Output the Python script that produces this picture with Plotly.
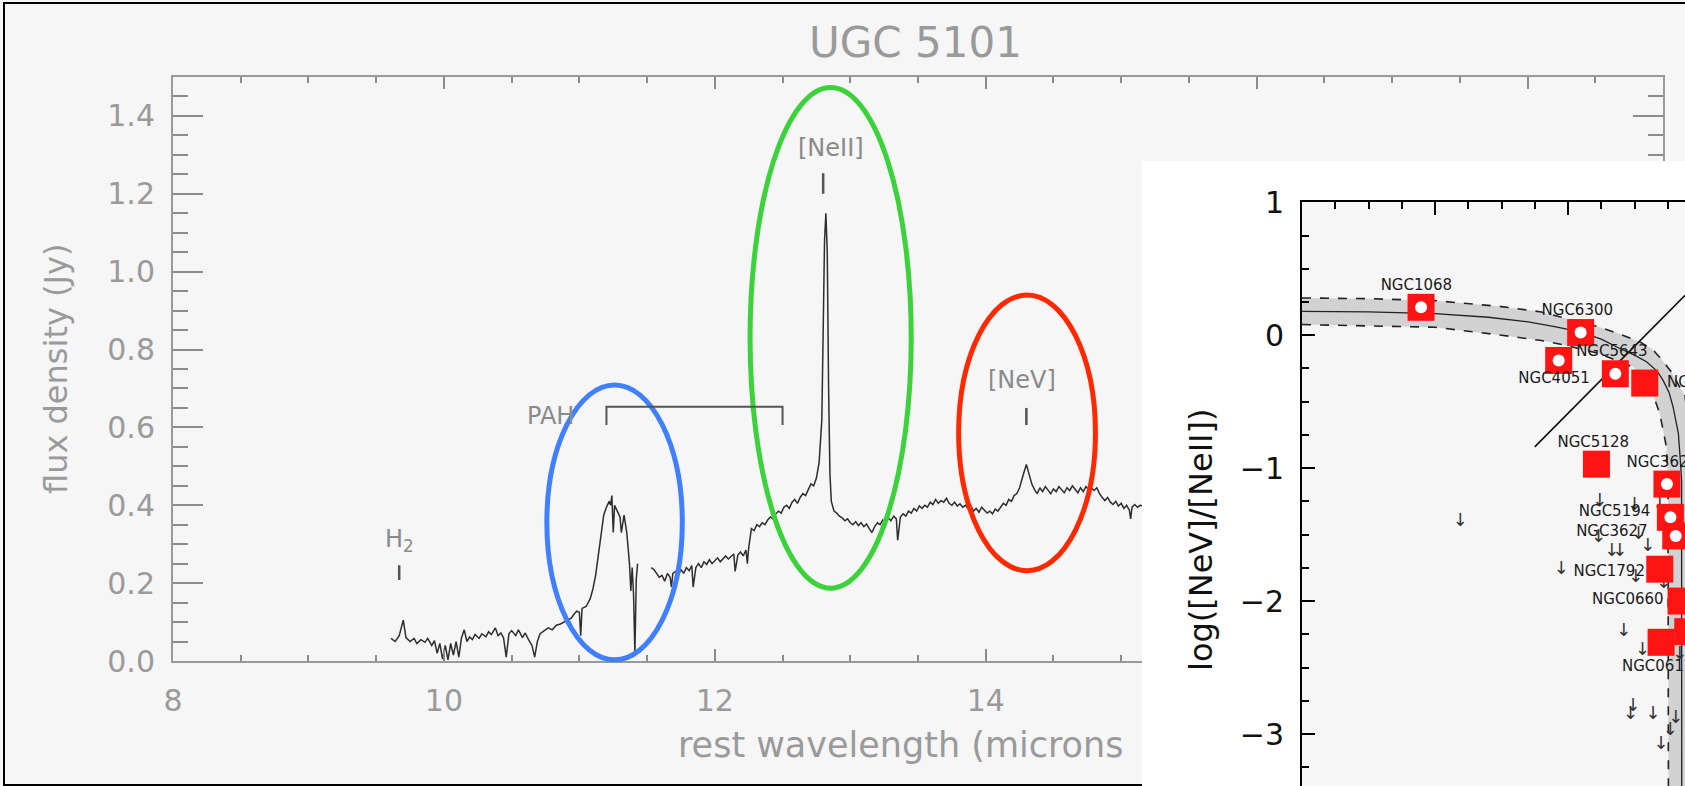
import plotly.graph_objects as go

W, H = 1685, 786

# ---- UGC 5101 spectrum (rest wavelength in microns, flux density in Jy)
wavelength = [
    9.61, 9.64, 9.67, 9.70, 9.72, 9.75, 9.78, 9.80, 9.83, 9.86, 9.88, 9.91, 9.93, 9.95, 9.97, 9.99,
    10.01, 10.03, 10.05, 10.07, 10.09, 10.11, 10.13, 10.15, 10.17, 10.19, 10.21, 10.23, 10.26, 10.28,
    10.31, 10.33, 10.35, 10.38, 10.40, 10.42, 10.44, 10.46, 10.48, 10.50, 10.53, 10.55, 10.58, 10.60,
    10.62, 10.65, 10.67, 10.69, 10.71, 10.74, 10.77, 10.80, 10.83, 10.86, 10.89, 10.92, 10.94, 10.96,
    10.98, 11.00, 11.01, 11.02, 11.05, 11.08, 11.10, 11.12, 11.14, 11.16, 11.18, 11.20, 11.22, 11.23,
    11.24, 11.25, 11.26, 11.28, 11.30, 11.31, 11.33, 11.35, 11.37, 11.38, 11.39, 11.40, 11.41, 11.42,
    11.43, 11.48, 11.53, 11.55, 11.57, 11.59, 11.61, 11.63, 11.65, 11.67, 11.68, 11.69, 11.71, 11.73,
    11.75, 11.77, 11.79, 11.81, 11.83, 11.84, 11.86, 11.88, 11.90, 11.92, 11.94, 11.96, 11.98, 12.00,
    12.02, 12.04, 12.06, 12.08, 12.10, 12.12, 12.14, 12.15, 12.17, 12.19, 12.21, 12.23, 12.24, 12.25,
    12.27, 12.29, 12.31, 12.33, 12.35, 12.37, 12.39, 12.41, 12.43, 12.45, 12.47, 12.49, 12.51, 12.53,
    12.55, 12.57, 12.59, 12.61, 12.63, 12.65, 12.67, 12.69, 12.71, 12.73, 12.75, 12.77, 12.79, 12.80,
    12.81, 12.82, 12.83, 12.84, 12.85, 12.86, 12.88, 12.90, 12.92, 12.94, 12.96, 12.98, 13.00, 13.02,
    13.04, 13.06, 13.08, 13.10, 13.12, 13.14, 13.16, 13.18, 13.20, 13.22, 13.24, 13.26, 13.28, 13.30,
    13.32, 13.34, 13.35, 13.37, 13.39, 13.41, 13.43, 13.45, 13.47, 13.49, 13.51, 13.53, 13.55, 13.57,
    13.59, 13.61, 13.63, 13.65, 13.67, 13.69, 13.71, 13.73, 13.75, 13.77, 13.79, 13.81, 13.83, 13.85,
    13.87, 13.89, 13.91, 13.93, 13.95, 13.97, 13.99, 14.01, 14.03, 14.05, 14.07, 14.09, 14.11, 14.13,
    14.15, 14.17, 14.19, 14.21, 14.23, 14.25, 14.27, 14.29, 14.30, 14.32, 14.34, 14.36, 14.38, 14.40,
    14.42, 14.44, 14.46, 14.48, 14.50, 14.52, 14.54, 14.56, 14.58, 14.60, 14.62, 14.64, 14.66, 14.68,
    14.70, 14.72, 14.74, 14.76, 14.78, 14.80, 14.82, 14.84, 14.86, 14.88, 14.90, 14.92, 14.94, 14.96,
    14.98, 15.00, 15.02, 15.04, 15.06, 15.07, 15.08, 15.10, 15.12, 15.14, 15.16,
]
flux = [
    0.058, 0.050, 0.065, 0.105, 0.060, 0.050, 0.058, 0.045, 0.055, 0.048, 0.058, 0.040, 0.052, 0.020, 0.045, 0.005,
    0.040, 0.003, 0.045, 0.015, 0.050, 0.010, 0.060, 0.080, 0.050, 0.062, 0.055, 0.068, 0.058, 0.070,
    0.062, 0.075, 0.068, 0.085, 0.065, 0.072, 0.060, 0.010, 0.070, 0.078, 0.065, 0.080, 0.060, 0.072,
    0.058, 0.040, 0.010, 0.050, 0.070, 0.078, 0.085, 0.080, 0.092, 0.095, 0.100, 0.105, 0.110, 0.120,
    0.128, 0.125, 0.065, 0.135, 0.140, 0.160, 0.185, 0.220, 0.270, 0.330, 0.375, 0.395, 0.410, 0.400,
    0.425, 0.330, 0.400, 0.385, 0.370, 0.330, 0.375, 0.330, 0.250, 0.180, 0.240, 0.170, 0.020, 0.210,
    0.250, None, 0.240, 0.235, 0.225, 0.215, 0.220, 0.205, 0.225, 0.215, 0.190, 0.225, 0.230, 0.220,
    0.235, 0.225, 0.240, 0.232, 0.245, 0.190, 0.240, 0.250, 0.240, 0.255, 0.248, 0.260, 0.250, 0.258,
    0.265, 0.255, 0.262, 0.270, 0.262, 0.268, 0.275, 0.230, 0.272, 0.280, 0.270, 0.285, 0.250, 0.290,
    0.340, 0.335, 0.350, 0.345, 0.355, 0.350, 0.362, 0.370, 0.365, 0.378, 0.385, 0.380, 0.395, 0.400,
    0.392, 0.408, 0.415, 0.405, 0.420, 0.430, 0.425, 0.440, 0.455, 0.450, 0.470, 0.510, 0.620, 0.850,
    1.080, 1.150, 1.050, 0.700, 0.480, 0.410, 0.385, 0.380, 0.372, 0.368, 0.360, 0.365, 0.355, 0.350,
    0.358, 0.348, 0.355, 0.345, 0.352, 0.340, 0.330, 0.345, 0.355, 0.350, 0.362, 0.355, 0.368, 0.360,
    0.372, 0.365, 0.310, 0.370, 0.378, 0.372, 0.385, 0.380, 0.392, 0.385, 0.398, 0.392, 0.400, 0.395,
    0.408, 0.402, 0.415, 0.405, 0.412, 0.408, 0.418, 0.405, 0.400, 0.408, 0.398, 0.404, 0.395, 0.400,
    0.392, 0.398, 0.385, 0.392, 0.382, 0.395, 0.388, 0.380, 0.385, 0.378, 0.390, 0.385, 0.395, 0.405,
    0.400, 0.415, 0.410, 0.425, 0.430, 0.445, 0.470, 0.495, 0.505, 0.480, 0.455, 0.440, 0.430, 0.445,
    0.435, 0.448, 0.440, 0.430, 0.442, 0.435, 0.448, 0.440, 0.432, 0.445, 0.438, 0.450, 0.440, 0.432,
    0.445, 0.435, 0.448, 0.440, 0.445, 0.438, 0.445, 0.430, 0.420, 0.412, 0.420, 0.408, 0.402, 0.410,
    0.398, 0.405, 0.392, 0.400, 0.388, 0.365, 0.395, 0.402, 0.395, 0.400, 0.398,
]

# line identifications: label text, label position (micron, Jy), marker tick (micron, Jy from, Jy to)
line_labels = ["H<sub>2</sub>", "[NeII]", "[NeV]"]
line_label_wl = [9.67, 12.86, 14.27]
line_label_flux = [0.31, 1.317, 0.721]
line_tick_wl = [9.67, 12.80, 14.30]
line_tick_lo = [0.208, 1.200, 0.606]
line_tick_hi = [0.246, 1.253, 0.650]

# PAH bracket
pah_wl = [11.20, 12.50]
pah_top, pah_foot = 0.653, 0.606

# highlight ellipses (micron x micron, Jy x Jy)
ellipses = [
    dict(x0=10.76, x1=11.76, y0=0.003, y1=0.709, color="rgb(64,128,255)"),
    dict(x0=12.26, x1=13.45, y0=0.187, y1=1.473, color="rgb(60,210,60)"),
    dict(x0=13.80, x1=14.81, y0=0.232, y1=0.940, color="rgb(255,40,0)"),
]

# ---- inset: log([NeV]/[NeII]) diagram (only the left part is visible)
gal_names = ["NGC1068", "NGC6300", "NGC4051", "NGC5643", "NGC7582", "NGC5128", "NGC3621",
             "NGC5194", "NGC3627", "NGC1792", "NGC0660", "NGC0613"]
gal_x = [-2.105, -0.905, -1.07, -0.644, -0.423, -0.786, -0.256, -0.23, -0.19, -0.31, -0.15, -0.30, -0.10]
gal_y = [0.21, 0.02, -0.19, -0.29, -0.36, -0.97, -1.12, -1.37, -1.51, -1.76, -2.00, -2.31, -2.23]
gal_open = [True, True, True, True, False, False, True, True, True, False, False, False, False]

lab_x = [-2.14, -0.93, -1.105, -0.67, -0.256, -0.81, -0.56, -0.65, -0.67, -0.69, -0.55, -0.594]
lab_y = [0.37, 0.18, -0.33, -0.13, -0.36, -0.81, -0.96, -1.33, -1.48, -1.78, -1.99, -2.50]
lab_pos = ["middle center", "middle center", "middle center", "middle center", "middle right",
           "middle center", "middle right", "middle center", "middle center", "middle center",
           "middle center", "middle right"]

# upper limits
lim_x = [-1.81, -0.76, -0.50, -0.31, -0.77, -0.47, -0.67, -0.61, -0.40, -1.05, -0.49, -0.28,
         -0.58, -0.44, -0.16, -0.51, -0.53, -0.36, -0.19, -0.23, -0.30]
lim_y = [-1.40, -1.25, -1.28, -1.28, -1.52, -1.50, -1.63, -1.63, -1.59, -1.76, -1.82, -1.87,
         -2.23, -2.37, -2.40, -2.79, -2.85, -2.85, -2.88, -2.97, -3.08]

# mixing curve and its band
curve_x = [-3.0, -2.5, -2.0, -1.6, -1.3, -1.1, -0.91, -0.75, -0.61, -0.5, -0.41, -0.33, -0.285,
           -0.24, -0.21, -0.17, -0.155, -0.146, -0.145]
curve_y = [0.18, 0.175, 0.163, 0.135, 0.10, 0.065, 0.025, -0.03, -0.10, -0.15, -0.20, -0.27, -0.34,
           -0.43, -0.54, -0.74, -0.95, -1.09, -3.5]
upper_x = [-3.0, -2.5, -2.0, -1.5, -1.2, -1.0, -0.76, -0.6, -0.46, -0.36, -0.29, -0.22, -0.16,
           -0.12, -0.09, -0.08, -0.075]
upper_y = [0.28, 0.275, 0.26, 0.215, 0.175, 0.125, 0.06, 0.005, -0.05, -0.11, -0.19, -0.28, -0.39,
           -0.45, -0.75, -1.1, -3.5]
lower_x = [-3.0, -2.0, -1.5, -1.2, -1.0, -0.76, -0.51, -0.38, -0.31, -0.26, -0.248, -0.245]
lower_y = [0.08, 0.06, 0.0, -0.04, -0.08, -0.14, -0.24, -0.39, -0.59, -0.84, -1.09, -3.5]

diag_x = [-1.25, -0.12]
diag_y = [-0.84, 0.30]

# ---------------------------------------------------------------- layout helpers
BG = "#f6f6f6"
GRAY_TXT = "#9a9a9a"
AX_GRAY = "#9a9a9a"
FONT = "DejaVu Sans"

MAIN_L, MAIN_R, MAIN_T, MAIN_B = 173, 1663, 77, 661
YMAX = 1.5
BOX_L, BOX_T = 1142, 161           # white inset panel
IN_L, IN_T, IN_SCALE = 1302, 202, 133.0   # inset axes (px per unit)


def fx(p):
    return p / W


def fy(p):
    return 1 - p / H


fig = go.Figure()

# spectrum
fig.add_trace(go.Scatter(
    x=wavelength, y=flux, mode="lines", xaxis="x", yaxis="y",
    line=dict(color="#2e2e2e", width=1.5), connectgaps=False, hoverinfo="skip",
))

# white inset panel (covers the part of the spectrum plot underneath)
fig.add_trace(go.Scatter(
    x=[0, 1, 1, 0, 0], y=[0, 0, 1, 1, 0], mode="lines", xaxis="x2", yaxis="y2",
    fill="toself", fillcolor="white", line=dict(width=0, color="white"), hoverinfo="skip",
))

# inset: band
fig.add_trace(go.Scatter(
    x=upper_x + lower_x[::-1], y=upper_y + lower_y[::-1], mode="lines", xaxis="x3", yaxis="y3",
    fill="toself", fillcolor="#d2d2d2", line=dict(width=0), hoverinfo="skip",
))
for bx, by in [(upper_x, upper_y), (lower_x, lower_y)]:
    fig.add_trace(go.Scatter(
        x=bx, y=by, mode="lines", xaxis="x3", yaxis="y3",
        line=dict(color="#222", width=1.6, dash="dash"), hoverinfo="skip",
    ))
fig.add_trace(go.Scatter(
    x=curve_x, y=curve_y, mode="lines", xaxis="x3", yaxis="y3",
    line=dict(color="#222", width=1.3), hoverinfo="skip",
))
fig.add_trace(go.Scatter(
    x=diag_x, y=diag_y, mode="lines", xaxis="x3", yaxis="y3",
    line=dict(color="#111", width=1.6), hoverinfo="skip",
))

# upper limits
fig.add_trace(go.Scatter(
    x=lim_x, y=lim_y, mode="text", text=["↓"] * len(lim_x), xaxis="x3", yaxis="y3",
    textfont=dict(family=FONT, size=18, color="#333"), hoverinfo="skip",
))

# galaxies
fig.add_trace(go.Scatter(
    x=gal_x, y=gal_y, mode="markers", xaxis="x3", yaxis="y3",
    marker=dict(symbol="square", size=27, color="#ff1414", line=dict(width=0)),
    hoverinfo="skip",
))
fig.add_trace(go.Scatter(
    x=[a for a, o in zip(gal_x, gal_open) if o], y=[b for b, o in zip(gal_y, gal_open) if o],
    mode="markers", xaxis="x3", yaxis="y3",
    marker=dict(symbol="circle", size=12, color="white", line=dict(width=0)),
    hoverinfo="skip",
))
fig.add_trace(go.Scatter(
    x=lab_x, y=lab_y, mode="text", text=gal_names, textposition=lab_pos,
    xaxis="x3", yaxis="y3", textfont=dict(family=FONT, size=15, color="#1a1a1a"),
    hoverinfo="skip",
))

# ---------------------------------------------------------------- shapes
shapes = []
# outer frame
shapes.append(dict(type="rect", xref="paper", yref="paper", layer="below",
                   x0=fx(4), x1=1.02, y0=fy(785), y1=fy(3),
                   line=dict(color="black", width=2), fillcolor="rgba(0,0,0,0)"))
for e in ellipses:
    shapes.append(dict(type="circle", xref="x", yref="y domain", layer="above",
                       x0=e["x0"], x1=e["x1"], y0=e["y0"] / YMAX, y1=e["y1"] / YMAX,
                       line=dict(color=e["color"], width=5)))
for wl, lo, hi in zip(line_tick_wl, line_tick_lo, line_tick_hi):
    shapes.append(dict(type="line", xref="x", yref="y", x0=wl, x1=wl, y0=lo, y1=hi,
                       line=dict(color="#555", width=2.5)))
shapes.append(dict(type="path", xref="x", yref="y",
                   path=f"M {pah_wl[0]} {pah_foot} L {pah_wl[0]} {pah_top} "
                        f"L {pah_wl[1]} {pah_top} L {pah_wl[1]} {pah_foot}",
                   line=dict(color="#555", width=2)))

# ---------------------------------------------------------------- annotations
def note(text, x, y, size, color, xref="paper", yref="paper", xanchor="center", angle=0):
    return dict(text=text, x=x, y=y, xref=xref, yref=yref, showarrow=False,
                xanchor=xanchor, yanchor="middle", textangle=angle,
                font=dict(family=FONT, size=size, color=color))


annotations = [
    note("UGC 5101", fx(915), fy(43), 42, GRAY_TXT),
    note("flux density (Jy)", fx(56), fy(369), 32, GRAY_TXT, angle=-90),
    note("rest wavelength (microns", fx(676), fy(745), 35, GRAY_TXT, xanchor="left"),
    note("PAH", 10.79, 0.629, 24, "#8a8a8a", xref="x", yref="y"),
    note("log([NeV]/[NeII])", fx(1201), fy(540), 32, "#111", angle=-90),
]
for t, x, y in zip(line_labels, line_label_wl, line_label_flux):
    annotations.append(note(t, x, y, 24, "#8a8a8a", xref="x", yref="y"))

main_tick = dict(family=FONT, size=30, color=GRAY_TXT)
fig.update_layout(
    template="none",
    width=W, height=H, autosize=False,
    margin=dict(l=0, r=0, t=0, b=0, pad=0),
    paper_bgcolor=BG, plot_bgcolor=BG,
    showlegend=False,
    shapes=shapes, annotations=annotations,
    xaxis=dict(
        domain=[fx(MAIN_L), fx(MAIN_R)], range=[8, 19], anchor="y", automargin=False,
        tick0=8, dtick=2, ticks="inside", ticklen=12, tickwidth=2, tickcolor="#8c8c8c",
        minor=dict(dtick=0.5, ticks="inside", ticklen=6, tickwidth=2, tickcolor="#8c8c8c"),
        showline=True, linecolor=AX_GRAY, linewidth=2, mirror="ticks",
        showgrid=False, zeroline=False, tickfont=main_tick, ticklabelstandoff=12,
    ),
    yaxis=dict(
        domain=[fy(MAIN_B), fy(MAIN_T)], range=[0, YMAX], anchor="x", automargin=False,
        tick0=0, dtick=0.2, tickformat=".1f", ticks="inside", ticklen=30, tickwidth=2,
        tickcolor="#8c8c8c",
        minor=dict(dtick=0.05, ticks="inside", ticklen=15, tickwidth=2, tickcolor="#8c8c8c"),
        showline=True, linecolor=AX_GRAY, linewidth=2, mirror="ticks",
        showgrid=False, zeroline=False, tickfont=main_tick, ticklabelstandoff=10,
    ),
    xaxis2=dict(domain=[fx(BOX_L), 1], range=[0, 1], anchor="y2", visible=False, automargin=False),
    yaxis2=dict(domain=[0, fy(BOX_T)], range=[0, 1], anchor="x2", visible=False, automargin=False),
    xaxis3=dict(
        domain=[fx(IN_L), 1], range=[-3, -3 + (W - IN_L) / IN_SCALE], anchor="y3", side="top",
        tick0=0, dtick=1, ticks="inside", ticklen=13, tickwidth=2, tickcolor="black",
        minor=dict(dtick=0.25, ticks="inside", ticklen=7, tickwidth=2, tickcolor="black"),
        showline=True, linecolor="black", linewidth=2, showticklabels=False,
        showgrid=False, zeroline=False, automargin=False,
    ),
    yaxis3=dict(
        domain=[0, fy(IN_T)], range=[1 - (H - IN_T) / IN_SCALE, 1.002], anchor="x3",
        tick0=0, dtick=1, ticks="inside", ticklen=13, tickwidth=2, tickcolor="black",
        minor=dict(dtick=0.25, ticks="inside", ticklen=7, tickwidth=2, tickcolor="black"),
        showline=True, linecolor="black", linewidth=2, automargin=False,
        showgrid=False, zeroline=False, ticklabelstandoff=10,
        tickfont=dict(family=FONT, size=30, color="#111"),
    ),
)

# the page gets no body margin so the figure sits flush in the window
fig.write_html("out.html", config={"displayModeBar": False},
               post_script="document.body.style.margin='0';"
                           "document.body.style.overflow='hidden';")
